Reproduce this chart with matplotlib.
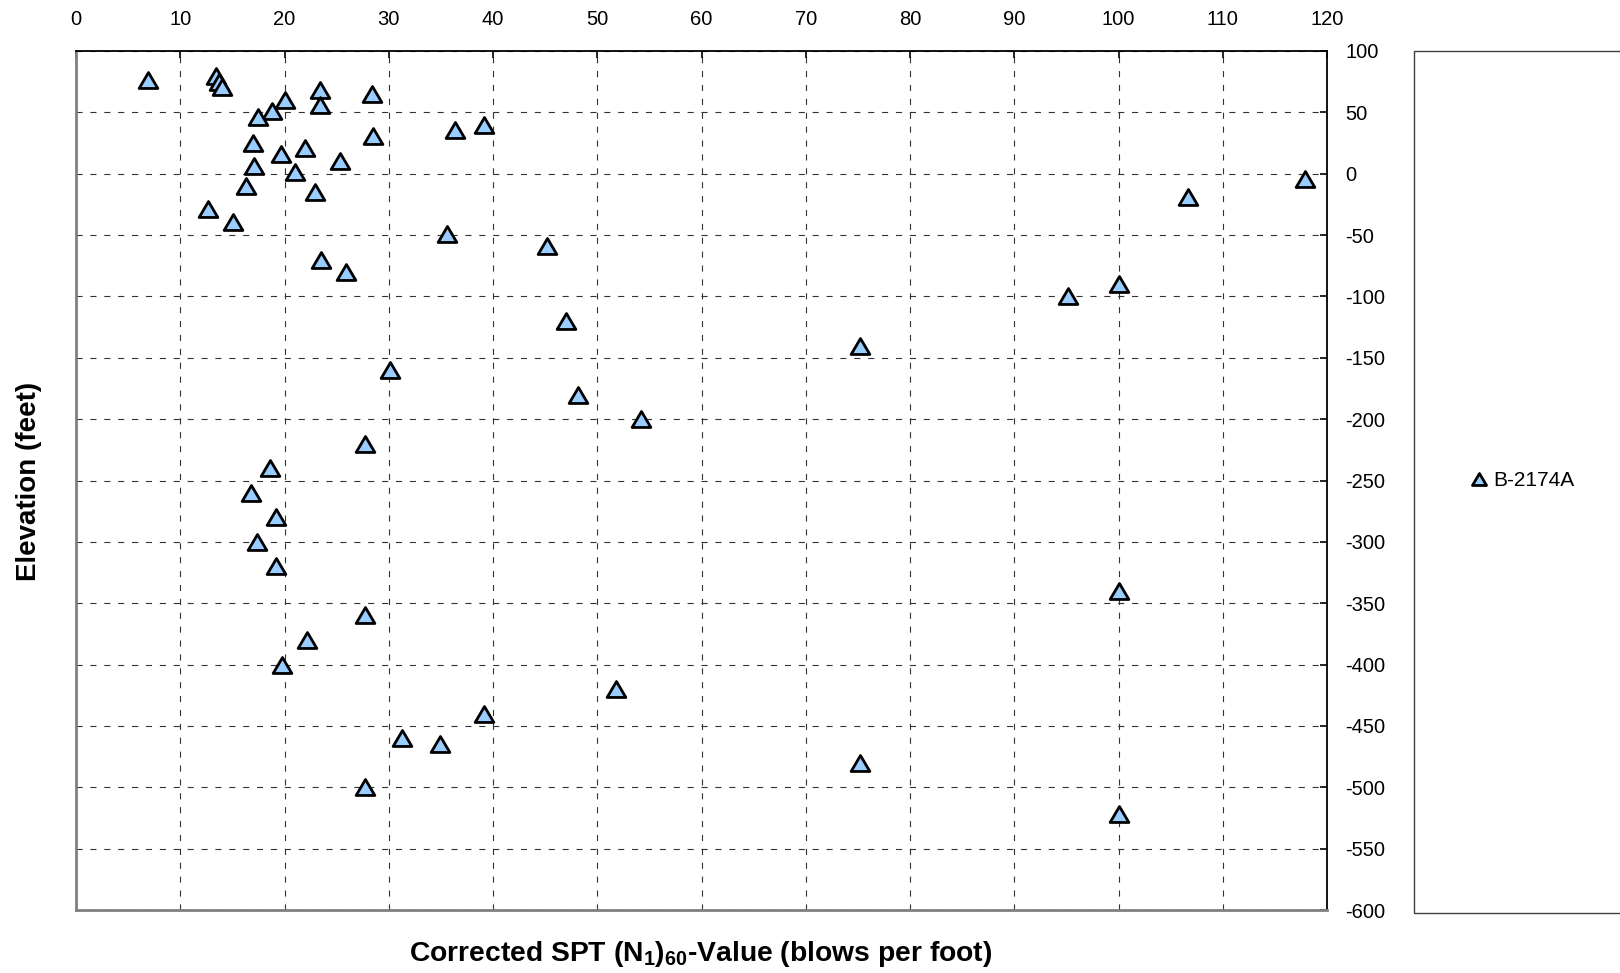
import matplotlib
matplotlib.use("Agg")
import matplotlib.pyplot as plt
from matplotlib.patches import Rectangle
from matplotlib.path import Path

plt.rcParams['font.family'] = ['Liberation Sans', 'DejaVu Sans']
plt.rcParams['axes.unicode_minus'] = False
plt.rcParams['mathtext.fontset'] = 'custom'
plt.rcParams['mathtext.rm'] = 'Liberation Sans:bold'
plt.rcParams['mathtext.it'] = 'Liberation Sans:bold'
plt.rcParams['mathtext.bf'] = 'Liberation Sans:bold'

# Boring B-2174A, corrected SPT blow counts vs elevation
n60 = [6.9, 13.4, 13.7, 14.0, 20.0, 23.4, 23.4, 28.4, 18.8, 17.5,
       36.4, 39.1, 28.5, 17.0, 22.0, 19.7, 25.3, 17.1, 21.0, 16.3,
       22.9, 12.7, 15.1, 35.6, 106.7, 117.9, 45.2, 23.5, 25.9, 100.0,
       95.2, 47.0, 75.2, 30.1, 48.2, 54.2, 27.7, 18.6, 16.8, 19.2,
       17.4, 19.2, 100.0, 27.7, 22.2, 19.8, 51.8, 39.1, 31.3, 34.9,
       75.2, 27.7, 100.0]
elev = [76, 80, 75, 71, 60, 68, 56, 65, 51, 46,
        36, 40, 31, 25, 21, 16, 10, 6, 1, -10,
        -15, -29, -39, -49, -19, -4, -59, -70, -80, -90,
        -100, -120, -140, -160, -180, -200, -220, -240, -260, -280,
        -300, -320, -340, -360, -380, -400, -420, -440, -460, -465,
        -480, -500, -522]
series_name = 'B-2174A'
x_ticks = list(range(0, 121, 10))
y_ticks = list(range(-600, 101, 50))

# slightly flattened triangle, like the Excel marker
tri = Path([(-1, -0.85), (1, -0.85), (0, 0.85), (-1, -0.85)],
           [Path.MOVETO, Path.LINETO, Path.LINETO, Path.CLOSEPOLY])

fig = plt.figure(figsize=(16.2, 9.73), dpi=100)
ax = fig.add_axes([76 / 1620, 1 - 910 / 973, (1327 - 76) / 1620, (910 - 51) / 973])

ax.plot(n60, elev, linestyle='none', marker=tri, markersize=13.5,
        markerfacecolor='#99ccff', markeredgecolor='black', markeredgewidth=2,
        label=series_name, clip_on=False, zorder=3)

ax.set_xlim(0, 120)
ax.set_ylim(-600, 100)
ax.set_xticks(x_ticks)
ax.set_yticks(y_ticks)
ax.xaxis.tick_top()
ax.yaxis.tick_right()
ax.tick_params(direction='in', length=5, width=1.2, labelsize=14.5)
ax.tick_params(axis='x', pad=16)
ax.tick_params(axis='y', pad=13)

ax.grid(True, color='#333333', linewidth=0.8, linestyle=(0, (5.5, 7)))
ax.set_axisbelow(True)

for side in ['left', 'bottom']:
    ax.spines[side].set_color('#808080')
    ax.spines[side].set_linewidth(2)
for side in ['top', 'right']:
    ax.spines[side].set_color('black')
    ax.spines[side].set_linewidth(1.3)

fig.text(701 / 1620, 1 - 954 / 973, r'Corrected SPT (N$_1$)$_{60}$-Value (blows per foot)',
         ha='center', va='center', fontsize=20.3, fontweight='bold')
fig.text(29 / 1620, 1 - 481 / 973, 'Elevation (feet)', rotation=90,
         ha='center', va='center', fontsize=20, fontweight='bold')

# legend panel on the right, running off the edge like the original
fig.patches.append(Rectangle((1414 / 1620, 1 - 913 / 973), 0.2, (913 - 51) / 973,
                             transform=fig.transFigure, facecolor='white',
                             edgecolor='#404040', linewidth=1.0))
fig.legend(loc='center left', bbox_to_anchor=(1470 / 1620, 1 - 481 / 973),
           frameon=False, fontsize=15, markerscale=0.75, handlelength=0.9,
           handletextpad=0.2, borderpad=0, borderaxespad=0)

fig.savefig('out.png', dpi=100)
